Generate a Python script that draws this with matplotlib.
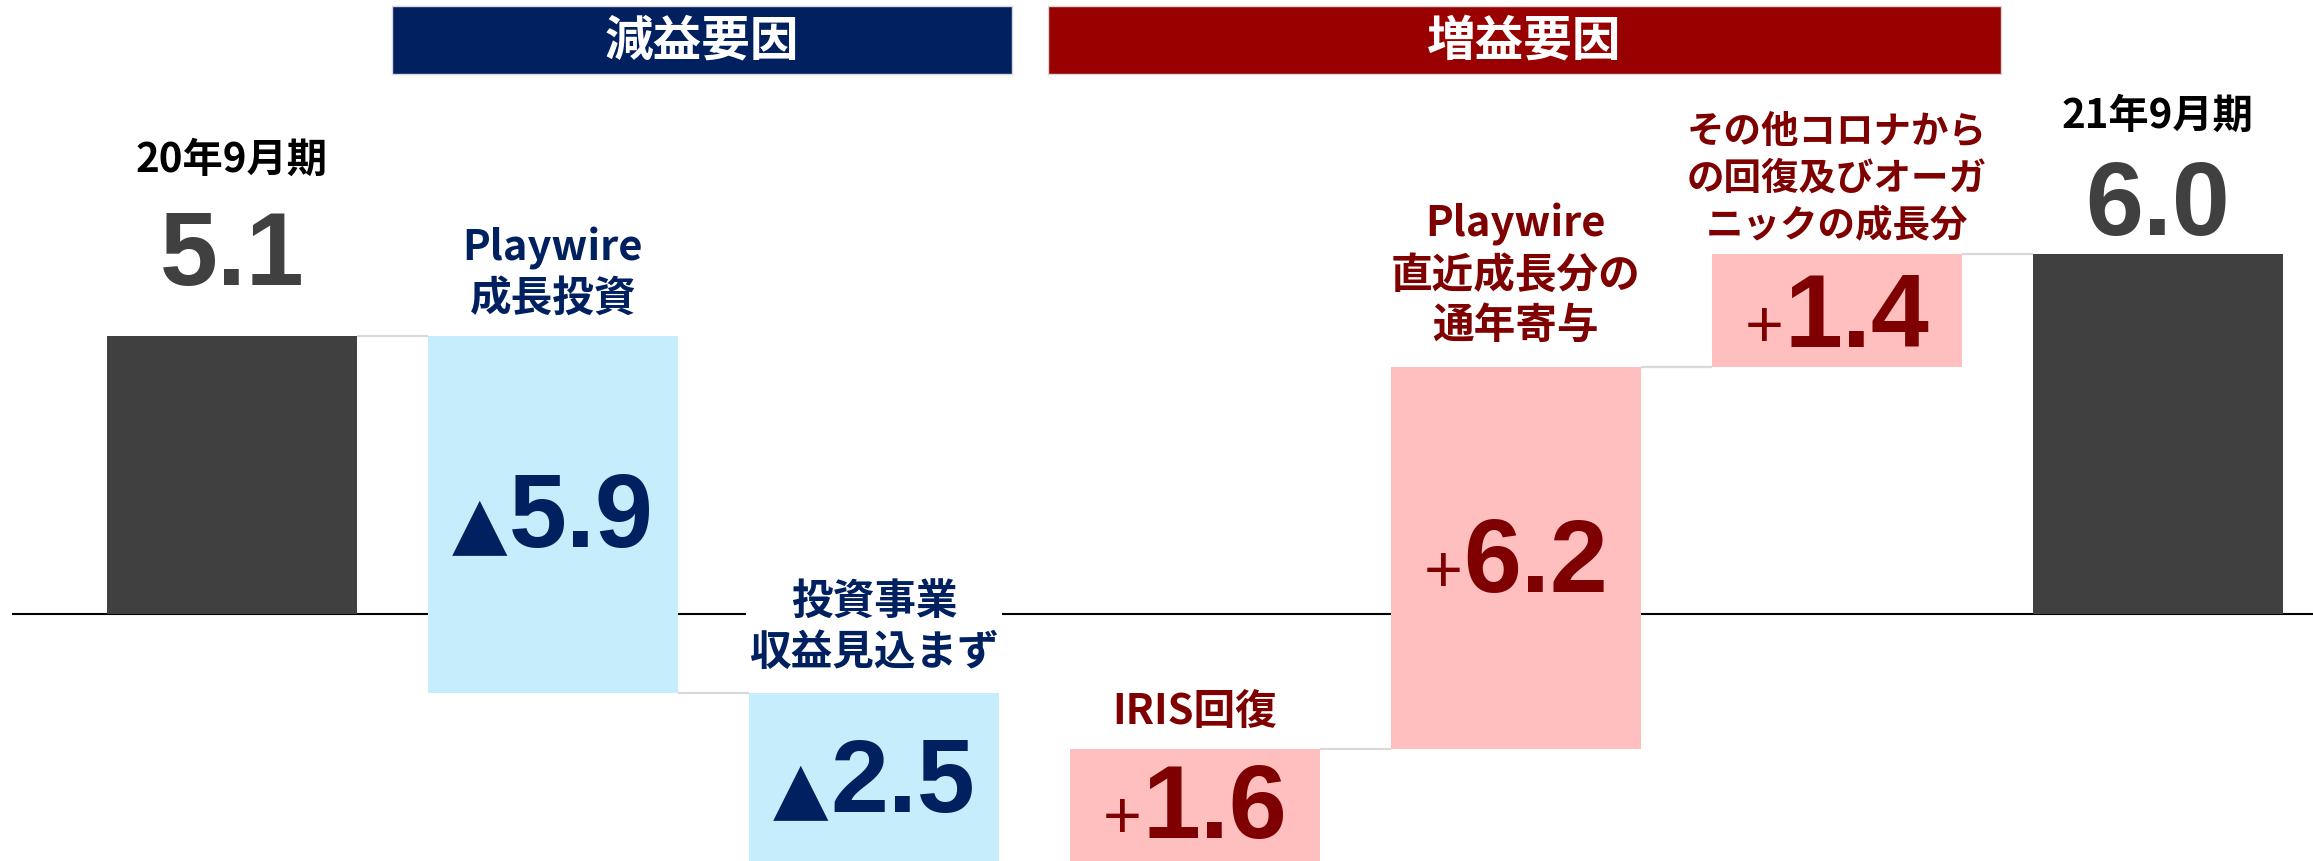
import matplotlib
matplotlib.use("Agg")
import matplotlib.pyplot as plt
from matplotlib import font_manager
from matplotlib.patches import Rectangle
from matplotlib.offsetbox import TextArea, HPacker, AnnotationBbox

# --- data ---
categories = ["20年9月期", "Playwire\n成長投資", "投資事業\n収益見込まず", "IRIS回復",
              "Playwire\n直近成長分の\n通年寄与", "その他コロナから\nの回復及びオーガ\nニックの成長分",
              "21年9月期"]
value_labels = ["5.1", "5.9", "2.5", "1.6", "6.2", "1.4", "6.0"]
signs = ["", "▲", "▲", "+", "+", "+", ""]
kinds = ["total", "down", "down", "up", "up", "up", "total"]
# the slide is not drawn to scale, so these are the running levels as drawn
# (start, after each step); the 3rd level sits below the visible area
levels = [4.60, -1.31, -5.0, -2.23, 4.08, 5.95]
headers = ["減益要因", "増益要因"]

# --- layout / style ---
plt.rcParams['font.family'] = ['Noto Sans CJK JP', 'DejaVu Sans']
names = {f.name for f in font_manager.fontManager.ttflist}
num_font = 'Liberation Sans Narrow' if 'Liberation Sans Narrow' in names else 'Liberation Sans'

colors = {"total": "#404040", "down": "#c6edfc", "up": "#ffbfbf"}
text_colors = {"total": "#000000", "down": "#002060", "up": "#7f0000"}
value_colors = {"total": "#404040", "down": "#002060", "up": "#7f0000"}
header_colors = ["#002060", "#990000"]
header_spans = [(0.498, 2.430), (2.542, 5.511)]
label_y = [7.52, 5.65, -0.21, -1.60, 5.62, 7.22, 8.25]
value_y = [6.08, 1.74, -2.64, -3.07, 1.01, 5.06, 6.91]
label_size = [29, 30, 30, 30, 30, 27, 29]
bar_w = 0.779

fig = plt.figure(figsize=(23.13, 8.62), dpi=100)
ax = fig.add_axes([0, 0, 1, 1])
ax.set_xlim(-0.7227, 6.4829)
ax.set_ylim(-4.083, 10.165)
ax.axis('off')

# bars
x = list(range(len(categories)))
bottoms, tops = [], []
for i, k in enumerate(kinds):
    if i == 0:
        b, t = 0.0, levels[0]
    elif i == len(kinds) - 1:
        b, t = 0.0, levels[-1]
    else:
        b, t = levels[i - 1], levels[i]
    bottoms.append(min(b, t))
    tops.append(max(b, t))
heights = [t - b for b, t in zip(bottoms, tops)]
ax.bar(x, heights, bottom=bottoms, width=bar_w,
       color=[colors[k] for k in kinds], linewidth=0, zorder=2)

# zero line and connectors
ax.plot([-0.682, 6.4829], [0, 0], color='black', lw=1.5, zorder=1)
for i in range(len(levels)):
    ax.plot([x[i] + bar_w / 2, x[i + 1] - bar_w / 2], [levels[i], levels[i]],
            color='#d9d9d9', lw=1.6, zorder=1, solid_capstyle='butt')

# category labels
for i, (lab, k) in enumerate(zip(categories, kinds)):
    kw = {}
    if i == 2:
        kw['bbox'] = dict(facecolor='white', edgecolor='none', pad=2)
    ax.text(x[i], label_y[i], lab, ha='center', va='center', ma='center',
            fontsize=label_size[i], fontweight='bold', color=text_colors[k],
            linespacing=1.25, zorder=4, **kw)

# value labels (small sign + big number, baseline aligned)
for i, (val, sg, k) in enumerate(zip(value_labels, signs, kinds)):
    col = value_colors[k]
    parts = []
    if sg == "▲":
        parts.append(TextArea(sg, textprops=dict(fontsize=52, color=col, family='DejaVu Sans')))
    elif sg == "+":
        parts.append(TextArea(sg, textprops=dict(fontsize=48, color=col, family='Liberation Sans')))
    parts.append(TextArea(val, textprops=dict(fontsize=75, color=col, family=num_font,
                                              fontweight='bold')))
    pack = HPacker(children=parts, align='baseline', pad=0, sep=1)
    ab = AnnotationBbox(pack, (x[i], value_y[i]), xycoords='data', frameon=False,
                        box_alignment=(0.5, 0.615), pad=0, zorder=5)
    ax.add_artist(ab)

# group headers
for h, (x0, x1), c in zip(headers, header_spans, header_colors):
    ax.add_patch(Rectangle((x0, 8.93), x1 - x0, 1.12, facecolor=c, edgecolor='#d9d9d9',
                           lw=1, zorder=3, clip_on=False))
    ax.text((x0 + x1) / 2, 9.49, h, ha='center', va='center', color='white',
            fontsize=35, fontweight='bold', zorder=4)

fig.savefig("out.png", dpi=100)
